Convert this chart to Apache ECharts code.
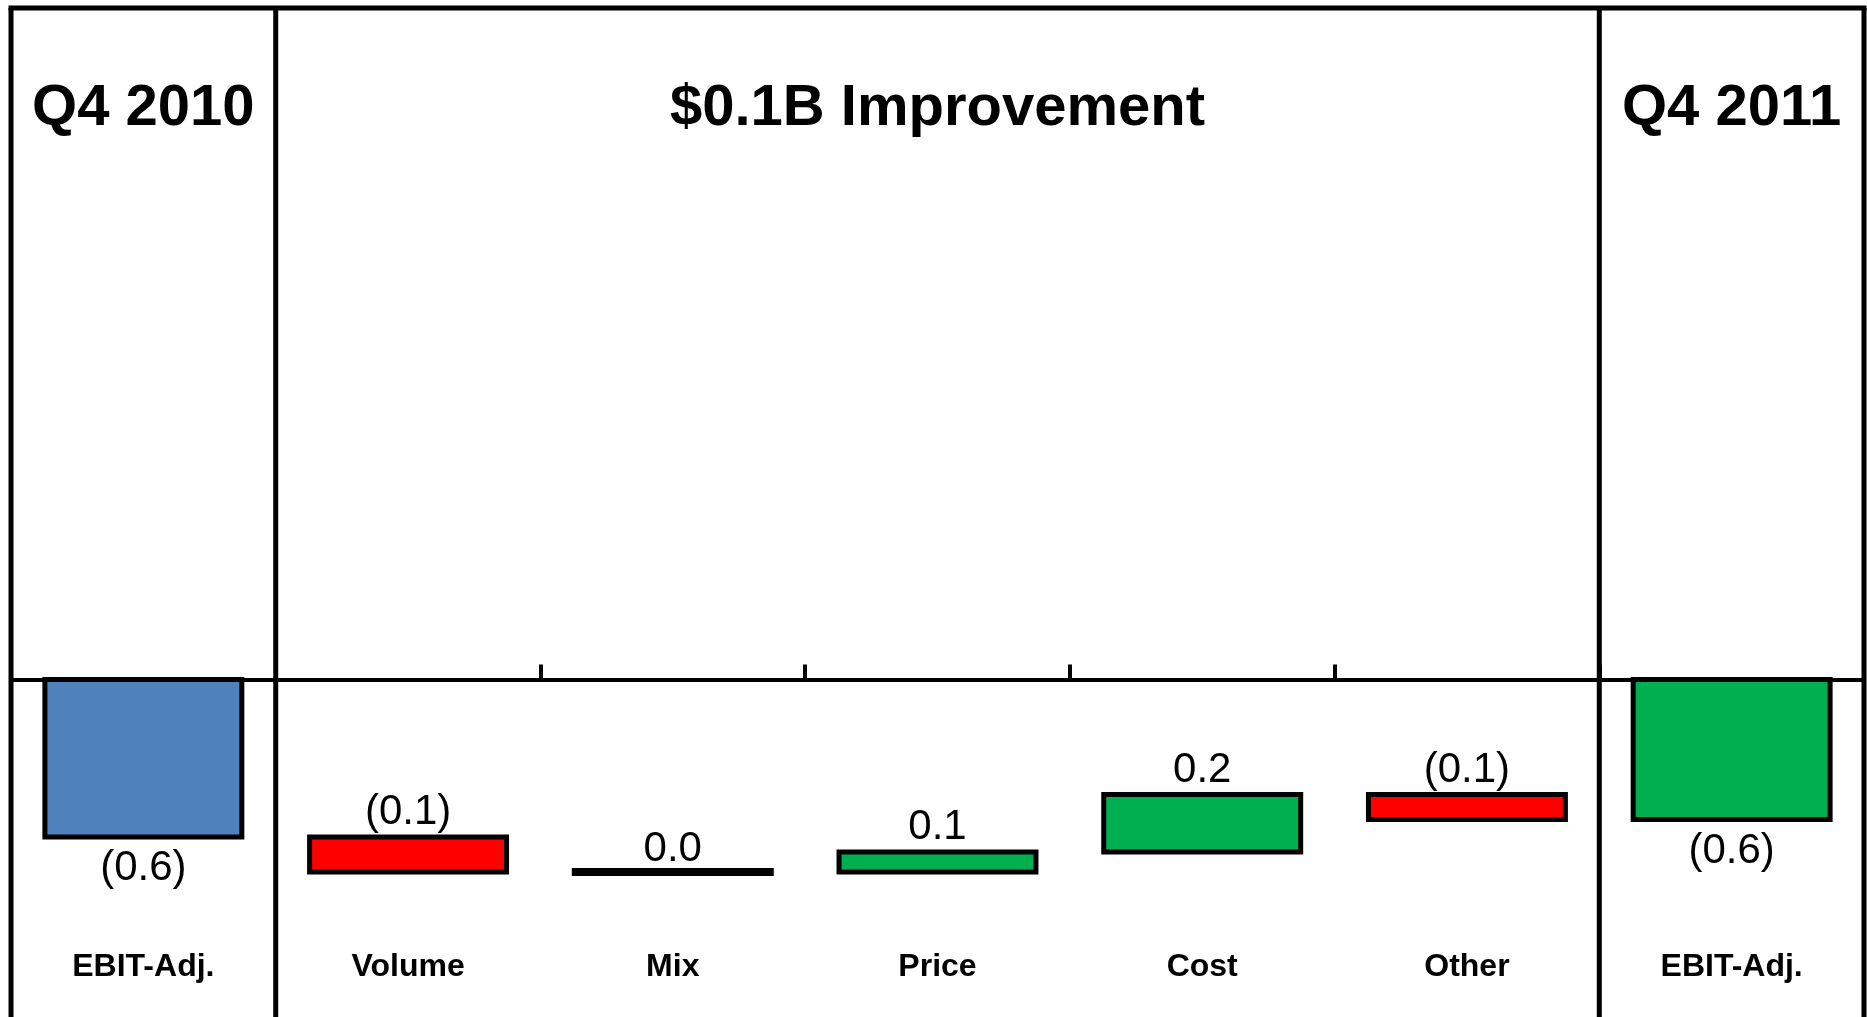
<!DOCTYPE html>
<html>
<head>
<meta charset="utf-8">
<script src="https://cdn.jsdelivr.net/npm/echarts@6/dist/echarts.min.js"></script>
<style>
  html, body { margin: 0; padding: 0; background: #ffffff; }
  #chart { width: 1867px; height: 1017px; }
</style>
</head>
<body>
<div id="chart"></div>
<script>
// EBIT-Adj. bridge, Q4 2010 -> Q4 2011 ($B)
const categories = ['EBIT-Adj.', 'Volume', 'Mix', 'Price', 'Cost', 'Other', 'EBIT-Adj.'];
const sectionTitles = ['Q4 2010', '$0.1B Improvement', 'Q4 2011'];
const startTotal = -0.63;                              // Q4 2010 EBIT-Adj.
const changeValues = [-0.14, 0.0, 0.08, 0.23, -0.10];  // Volume, Mix, Price, Cost, Other
const endTotal = -0.56;                                // Q4 2011 EBIT-Adj.

const COLORS = { start: '#4F81BD', up: '#00B050', down: '#FF0000', flat: '#000000', end: '#00B050' };
const FONT = '"Liberation Sans", Arial, Helvetica, sans-serif';
const BAR_RATIO = 0.744;   // share of each category band taken by a bar
const MIN_BAR_PX = 3;      // a zero step still shows as a short black bar

function fmt(v) {
  const s = Math.abs(v).toFixed(1);
  return v < 0 ? '(' + s + ')' : s;
}

// Each step: [category index, from, to], plus colour and label placement.
const steps = [];
const stepInfo = [];
steps.push([0, 0, startTotal]);
stepInfo.push({ signed: startTotal, color: COLORS.start, pos: 'bottom', dist: 8 });
let running = startTotal;
changeValues.forEach(function (d, k) {
  steps.push([k + 1, running, running + d]);
  stepInfo.push({
    signed: d,
    color: d > 0 ? COLORS.up : (d < 0 ? COLORS.down : COLORS.flat),
    pos: 'top', dist: d === 0 ? -2 : 1
  });
  running += d;
});
steps.push([categories.length - 1, 0, endTotal]);
stepInfo.push({ signed: endTotal, color: COLORS.end, pos: 'bottom', dist: 8 });

function renderStep(params, api) {
  const idx = api.value(0);
  const pA = api.coord([idx, api.value(1)]);
  const pB = api.coord([idx, api.value(2)]);
  const w = api.size([1, 0])[0] * BAR_RATIO;
  let y = Math.min(pA[1], pB[1]);
  let h = Math.abs(pA[1] - pB[1]);
  if (h < MIN_BAR_PX) { y = pA[1] - MIN_BAR_PX / 2; h = MIN_BAR_PX; }
  const info = stepInfo[params.dataIndex];
  return {
    type: 'rect',
    shape: { x: pA[0] - w / 2, y: y, width: w, height: h },
    style: { fill: info.color, stroke: '#000', lineWidth: 5 },
    textContent: {
      style: { text: fmt(info.signed), fill: '#000', font: '42px ' + FONT }
    },
    textConfig: { position: info.pos, distance: info.dist }
  };
}

const chart = echarts.init(document.getElementById('chart'), null, { renderer: 'canvas' });

const option = {
  animation: false,
  backgroundColor: '#ffffff',
  grid: { left: 11, right: 3, top: 54.5, bottom: 75, containLabel: false },
  xAxis: [
    {
      type: 'category',
      data: categories,
      boundaryGap: true,
      axisLine: { show: true, onZero: true, lineStyle: { color: '#000', width: 4 } },
      axisTick: { show: true, inside: true, length: 15, lineStyle: { color: '#000', width: 4 } },
      axisLabel: { show: false },
      splitLine: { show: false }
    },
    {
      type: 'category',
      data: categories,
      position: 'bottom',
      boundaryGap: true,
      axisLine: { show: false, onZero: false },
      axisTick: { show: false },
      axisLabel: {
        show: true, interval: 0, margin: 9.5,
        fontFamily: FONT, fontSize: 32, fontWeight: 'bold', color: '#000'
      },
      splitLine: { show: false }
    }
  ],
  yAxis: {
    type: 'value',
    min: -1.05,
    max: 2.5,
    show: false,
    splitLine: { show: false }
  },
  series: [
    {
      name: 'EBIT-Adj. bridge',
      type: 'custom',
      xAxisIndex: 0,
      renderItem: renderStep,
      encode: { x: 0, y: [1, 2] },
      z: 3,
      data: steps
    }
  ]
};

chart.setOption(option);

// Frame, section dividers and section headings, placed from the category axis.
const c0 = chart.convertToPixel({ xAxisIndex: 0 }, 0);
const c1 = chart.convertToPixel({ xAxisIndex: 0 }, 1);
const band = c1 - c0;
const edge = function (i) { return c0 + (i - 0.5) * band; };
const center = function (i) { return c0 + i * band; };
const topY = 8;
const bottomY = 1030;

const lineStyle = { stroke: '#000', lineWidth: 5 };
const vline = function (x) {
  return { type: 'line', z: 10, shape: { x1: x, y1: topY, x2: x, y2: bottomY }, style: lineStyle };
};
const heading = function (text, x) {
  return {
    type: 'text', z: 10, x: x, y: 109,
    style: { text: text, fill: '#000', font: 'bold 58px ' + FONT, align: 'center', verticalAlign: 'middle' }
  };
};

chart.setOption({
  graphic: [
    { type: 'line', z: 10, shape: { x1: edge(0) - 2.5, y1: topY, x2: edge(7) + 2.5, y2: topY }, style: lineStyle },
    vline(edge(0)),
    vline(edge(1)),
    vline(edge(6)),
    vline(edge(7)),
    heading(sectionTitles[0], center(0)),
    heading(sectionTitles[1], (center(1) + center(5)) / 2),
    heading(sectionTitles[2], center(6))
  ]
});
</script>
</body>
</html>
